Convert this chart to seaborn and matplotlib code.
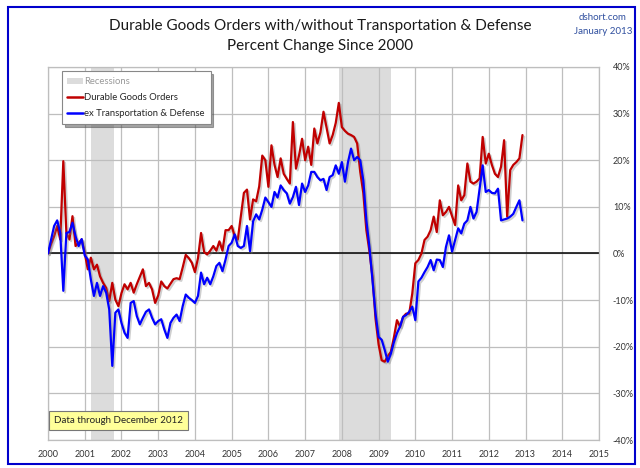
import numpy as np
import pandas as pd
import matplotlib
matplotlib.use("Agg")
import matplotlib.pyplot as plt
import matplotlib.patheffects as pe
from matplotlib.patches import Patch, Rectangle
from matplotlib.lines import Line2D
import seaborn as sns

# Monthly % change since Jan 2000, Jan 2000 .. Dec 2012
durable = [
    0, 2.0, 3.7, 5.9, 3.0, 19.8, 4.4, 3.0, 8.0, 1.6, 2.3, 3.0,
    0.1, -3.4, -0.9, -3.4, -2.4, -4.9, -6.3, -7.4, -10.2, -6.3, -9.9, -11.3,
    -8.5, -6.6, -7.7, -6.3, -8.4, -6.6, -5.0, -3.4, -7.0, -6.3, -7.7, -10.6,
    -9.0, -6.0, -7.0, -7.5, -6.5, -5.5, -5.3, -5.5, -3.0, -0.3, -1.0, -2.0,
    -4.0, -1.0, 4.4, 0.3, -0.2, 0.6, 1.6, 0.6, 2.6, 0.6, 5.0, 5.0,
    5.9, 3.7, 3.0, 8.0, 13.0, 13.7, 7.3, 11.6, 11.2, 14.4, 21.0, 20.0,
    14.3, 23.2, 19.0, 16.4, 20.4, 17.1, 16.0, 15.0, 28.2, 18.2, 21.0, 24.6,
    20.0, 22.9, 19.0, 26.8, 23.6, 26.0, 30.4, 27.0, 23.6, 25.4, 28.0, 32.3,
    27.1, 26.3, 25.7, 25.4, 25.0, 23.6, 17.5, 13.0, 5.0, 0.5, -5.0, -14.0,
    -19.5, -22.9, -23.2, -22.0, -21.1, -18.0, -14.3, -15.7, -13.6, -12.9, -12.9, -8.6,
    -2.1, -1.4, 0.0, 2.9, 3.6, 5.0, 7.9, 4.6, 11.4, 8.2, 8.9, 10.0,
    8.0, 6.1, 14.6, 11.4, 12.5, 19.3, 15.4, 15.0, 15.4, 16.1, 25.0, 19.3,
    21.4, 19.0, 17.1, 16.4, 18.6, 24.3, 7.9, 17.9, 19.0, 19.6, 20.4, 25.4,
]
ex_transport = [
    0, 3.0, 5.9, 7.1, 4.4, -8.0, 4.4, 4.6, 6.6, 3.7, 1.6, 3.1,
    -0.4, -1.3, -5.6, -9.1, -6.3, -9.1, -7.0, -8.4, -12.0, -24.1, -12.7, -12.0,
    -14.9, -17.0, -18.1, -10.6, -10.2, -13.4, -15.2, -13.8, -12.5, -12.0, -13.8, -15.2,
    -14.5, -14.1, -16.3, -18.1, -14.9, -13.8, -13.1, -14.5, -11.3, -8.8, -9.5, -10.0,
    -10.6, -9.1, -4.1, -6.6, -5.2, -6.6, -4.9, -2.7, -2.0, -3.8, -1.3, 1.6,
    2.3, 4.1, 1.6, 1.2, 1.6, 5.9, 0.5, 6.9, 8.4, 7.3, 9.4, 12.0,
    11.0, 10.0, 13.2, 12.0, 14.6, 13.6, 12.9, 10.7, 12.1, 14.3, 10.4, 15.0,
    13.2, 14.6, 17.5, 17.5, 16.4, 15.7, 16.0, 13.6, 16.4, 16.8, 18.9, 17.1,
    19.6, 15.4, 19.6, 22.5, 20.0, 20.7, 20.0, 15.7, 7.1, 1.4, -5.7, -12.9,
    -17.9, -18.5, -20.7, -23.2, -21.5, -19.0, -17.1, -15.7, -13.6, -13.2, -12.5, -11.4,
    -14.3, -6.0, -5.2, -4.0, -2.9, -1.4, -3.6, -1.3, -1.4, -2.9, 1.4, 3.9,
    0.4, 2.9, 5.4, 4.3, 6.4, 7.1, 10.0, 7.5, 8.9, 13.9, 18.9, 13.2,
    13.6, 13.0, 12.9, 13.9, 7.1, 7.3, 7.5, 7.9, 8.5, 10.0, 11.4, 7.1,
]
recessions = [(2001.17, 2001.8), (2007.92, 2009.33)]
year_ticks = list(range(2000, 2016))
pct_ticks = list(range(-40, 41, 10))

dates = [2000 + i / 12 for i in range(len(durable))]
df = pd.DataFrame({"date": dates, "durable": durable, "ex": ex_transport})

sns.set_style("white")
plt.rcParams["font.family"] = ["Lato", "DejaVu Sans"]

fig = plt.figure(figsize=(6.4, 4.68), dpi=100)
ax = fig.add_axes([48 / 640, 28 / 468, 551 / 640, 373 / 468])

RED = "#C00000"
BLUE = "#0000FF"
GRID = "#BEBEBE"

for start, end in recessions:
    ax.axvspan(start, end, color="#DCDCDC", lw=0, zorder=0)

shadow = [pe.SimpleLineShadow(offset=(1.2, -1.2), shadow_color="#777777", alpha=0.35), pe.Normal()]
sns.lineplot(data=df, x="date", y="durable", ax=ax, color=RED, lw=1.6, zorder=3, path_effects=shadow)
sns.lineplot(data=df, x="date", y="ex", ax=ax, color=BLUE, lw=1.6, zorder=4, path_effects=shadow)
ax.axhline(0, color="black", lw=1.1, zorder=2)

ax.set_xlim(2000, 2015)
ax.set_ylim(-40, 40)
ax.set_xticks(year_ticks)
ax.set_xticklabels([str(y) for y in year_ticks])
ax.set_yticks(pct_ticks)
ax.set_yticklabels([f"{v}%" for v in pct_ticks])
ax.yaxis.tick_right()
ax.tick_params(axis="both", labelsize=6.5, labelcolor="#333333", length=0, pad=7)
ax.tick_params(axis="y", pad=10)
ax.set_xlabel("")
ax.set_ylabel("")
ax.grid(True, color=GRID, lw=0.9, zorder=1)
ax.set_axisbelow(True)
for s in ax.spines.values():
    s.set_color(GRID)
    s.set_linewidth(0.9)

# legend
handles = [
    Patch(facecolor="#DCDCDC", edgecolor="none"),
    Line2D([0], [0], color=RED, lw=1.8),
    Line2D([0], [0], color=BLUE, lw=1.8),
]
labels = ["Recessions", "Durable Goods Orders", "ex Transportation & Defense"]
leg = ax.legend(handles, labels, loc="upper left", bbox_to_anchor=(0.025, 0.988),
                fontsize=6.8, frameon=True, fancybox=False, shadow=True,
                handlelength=1.7, handletextpad=0.1, labelspacing=0.75,
                borderpad=0.6, borderaxespad=0)
leg.get_frame().set_edgecolor("#888888")
leg.get_frame().set_linewidth(0.8)
leg.get_texts()[0].set_color("#999999")

# note box
ax.text(0.128, 0.052, "Data through December 2012", transform=ax.transAxes,
        ha="center", va="center", fontsize=7, color="#222222", zorder=6,
        bbox=dict(boxstyle="square,pad=0.5", facecolor="#FFFF99", edgecolor="#777777", lw=0.8))

# titles
fig.text(0.5, 0.944, "Durable Goods Orders with/without Transportation & Defense",
         ha="center", va="center", fontsize=11, color="#1a1a1a")
fig.text(0.5, 0.902, "Percent Change Since 2000", ha="center", va="center",
         fontsize=11, color="#1a1a1a")
fig.text(0.942, 0.962, "dshort.com", ha="center", va="center", fontsize=7, color="#2F4F9F")
fig.text(0.942, 0.932, "January 2013", ha="center", va="center", fontsize=7, color="#2F4F9F")

# outer blue frame
fig.patches.append(Rectangle((8 / 640, 4 / 468), 627 / 640, 457 / 468, transform=fig.transFigure,
                             fill=False, edgecolor="#0000CC", lw=1.5))

fig.savefig("out.png", dpi=100)
